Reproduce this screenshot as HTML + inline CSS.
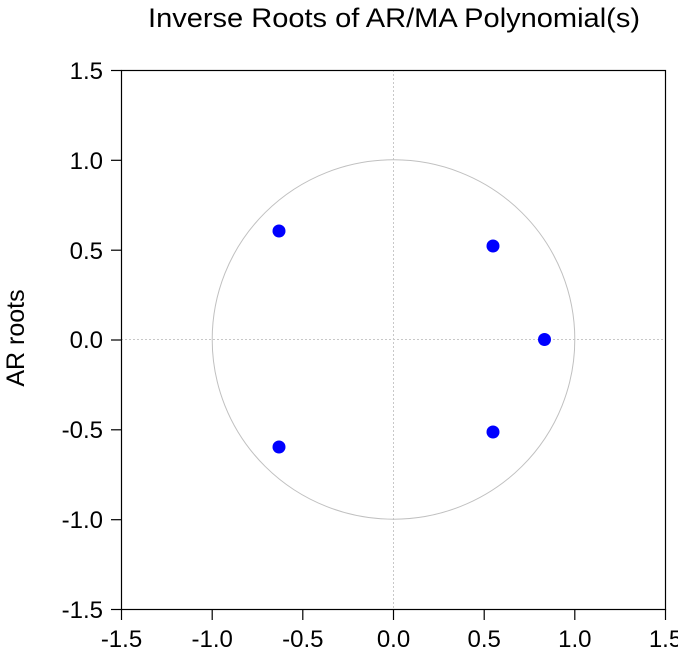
<!DOCTYPE html>
<html><head><meta charset="utf-8"><style>
html,body{margin:0;padding:0;background:#fff;}
svg{display:block;font-family:"Liberation Sans",Arial,sans-serif;}
</style></head><body>
<svg width="678" height="651" viewBox="0 0 678 651">
<rect width="678" height="651" fill="#fff"/>
<text x="394" y="27" font-size="27" text-anchor="middle" textLength="492" lengthAdjust="spacingAndGlyphs">Inverse Roots of AR/MA Polynomial(s)</text>
<text transform="translate(24,338) rotate(-90)" font-size="25" text-anchor="middle">AR roots</text>
<!-- grid -->
<line x1="393.5" y1="70" x2="393.5" y2="609" stroke="#c8c8c8" stroke-dasharray="2,2"/>
<line x1="121" y1="339.5" x2="665" y2="339.5" stroke="#c8c8c8" stroke-dasharray="2,2"/>
<ellipse cx="393.5" cy="339.5" rx="181.3" ry="179.7" fill="none" stroke="#c0c0c0" stroke-width="1"/>
<!-- box -->
<rect x="121.5" y="70.5" width="544" height="539" fill="none" stroke="#000" stroke-width="1.2"/>
<g stroke="#000" stroke-width="1.2">
<line x1="121.5" y1="609" x2="121.5" y2="620"/>
<line x1="212.2" y1="609" x2="212.2" y2="620"/>
<line x1="302.8" y1="609" x2="302.8" y2="620"/>
<line x1="393.5" y1="609" x2="393.5" y2="620"/>
<line x1="484.2" y1="609" x2="484.2" y2="620"/>
<line x1="574.8" y1="609" x2="574.8" y2="620"/>
<line x1="665.5" y1="609" x2="665.5" y2="620"/>
<line x1="111" y1="70.5" x2="121.5" y2="70.5"/>
<line x1="111" y1="160.3" x2="121.5" y2="160.3"/>
<line x1="111" y1="250.2" x2="121.5" y2="250.2"/>
<line x1="111" y1="340" x2="121.5" y2="340"/>
<line x1="111" y1="429.8" x2="121.5" y2="429.8"/>
<line x1="111" y1="519.7" x2="121.5" y2="519.7"/>
<line x1="111" y1="609.5" x2="121.5" y2="609.5"/>
</g>
<g font-size="24" text-anchor="middle">
<text x="121.5" y="647">-1.5</text>
<text x="212.2" y="647">-1.0</text>
<text x="302.8" y="647">-0.5</text>
<text x="393.5" y="647">0.0</text>
<text x="484.2" y="647">0.5</text>
<text x="574.8" y="647">1.0</text>
<text x="665.5" y="647">1.5</text>
</g>
<g font-size="24" text-anchor="end">
<text x="103" y="79">1.5</text>
<text x="103" y="169">1.0</text>
<text x="103" y="259">0.5</text>
<text x="103" y="348">0.0</text>
<text x="103" y="438">-0.5</text>
<text x="103" y="528">-1.0</text>
<text x="103" y="618">-1.5</text>
</g>
<g fill="#0000ff">
<circle cx="279" cy="231" r="6.5"/>
<circle cx="493" cy="246" r="6.5"/>
<circle cx="544.5" cy="339.5" r="6.5"/>
<circle cx="493" cy="432" r="6.5"/>
<circle cx="279" cy="447" r="6.5"/>
</g>
</svg>
</body></html>
